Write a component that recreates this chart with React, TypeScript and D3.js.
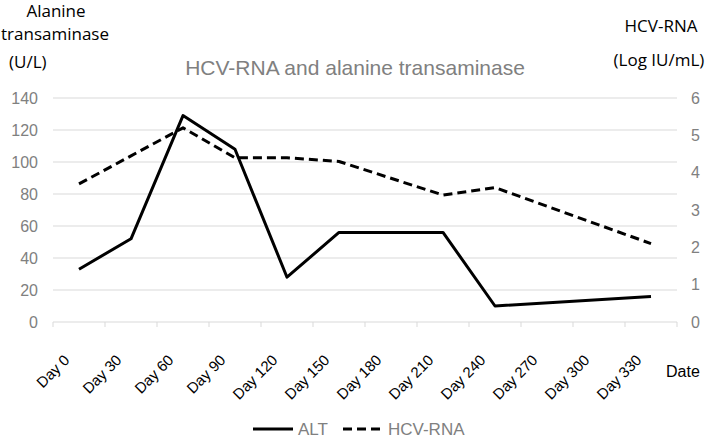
import React from 'react';
import * as d3 from 'd3';

const categories = ['Day 0', 'Day 30', 'Day 60', 'Day 90', 'Day 120', 'Day 150', 'Day 180', 'Day 210', 'Day 240', 'Day 270', 'Day 300', 'Day 330'];
const altValues: (number | null)[] = [33, 52, 129, 108, 28, 56, null, 56, 10, null, null, 16];
const hcvValues: (number | null)[] = [3.7, 4.45, 5.2, 4.4, 4.4, 4.3, null, 3.4, 3.6, null, null, 2.1];
const leftTicks = [0, 20, 40, 60, 80, 100, 120, 140];
const rightTicks = [0, 1, 2, 3, 4, 5, 6];

const W = 708;
const H = 442;
const plotLeft = 53;
const plotRight = 677;
const plotTop = 98;
const plotBottom = 322;

const tickFont = "'Liberation Sans', Arial, sans-serif";
const titleFont = "'Open Sans', 'Noto Sans', sans-serif";
const grey = '#808080';

export default function App() {
  const x = d3.scaleBand<string>().domain(categories).range([plotLeft, plotRight]).padding(0);
  const yL = d3.scaleLinear().domain([0, 140]).range([plotBottom, plotTop]);
  const yR = d3.scaleLinear().domain([0, 6]).range([plotBottom, plotTop]);
  const cx = (i: number) => (x(categories[i]) as number) + x.bandwidth() / 2;

  const altPts = altValues.map((v, i) => [cx(i), v] as [number, number | null]).filter(d => d[1] !== null) as [number, number][];
  const hcvPts = hcvValues.map((v, i) => [cx(i), v] as [number, number | null]).filter(d => d[1] !== null) as [number, number][];

  const altLine = d3.line<[number, number]>().x(d => d[0]).y(d => yL(d[1]))(altPts) || '';
  const hcvLine = d3.line<[number, number]>().x(d => d[0]).y(d => yR(d[1]))(hcvPts) || '';

  const boundaries = categories.map(c => x(c) as number).concat([plotRight]);

  return (
    <svg width={W} height={H} style={{ position: 'absolute', left: 0, top: 0, background: '#fff' }}>
      <rect x={0} y={0} width={W} height={H} fill="#fff" />
      {leftTicks.map(t => (
        <line key={'g' + t} x1={plotLeft} x2={plotRight} y1={yL(t)} y2={yL(t)} stroke="#d9d9d9" strokeWidth={1} />
      ))}
      {boundaries.map((b, i) => (
        <line key={'t' + i} x1={b} x2={b} y1={plotBottom} y2={plotBottom + 5} stroke="#d9d9d9" strokeWidth={1} />
      ))}
      {leftTicks.map(t => (
        <text key={'l' + t} x={38} y={yL(t)} dy="0.35em" textAnchor="end" fontFamily={tickFont} fontSize={16} fill={grey}>{t}</text>
      ))}
      {rightTicks.map(t => (
        <text key={'r' + t} x={691} y={yR(t)} dy="0.35em" textAnchor="start" fontFamily={tickFont} fontSize={16} fill={grey}>{t}</text>
      ))}
      {categories.map((c, i) => (
        <text key={'x' + c} transform={`translate(${cx(i) - 8.5},${361}) rotate(-45)`} textAnchor="end" fontFamily={tickFont} fontSize={15} fill="#000">{c}</text>
      ))}
      <text x={666} y={377} fontFamily={tickFont} fontSize={16} fill="#000">Date</text>
      <path d={hcvLine} fill="none" stroke="#000" strokeWidth={3} strokeDasharray="9,5" strokeLinejoin="round" />
      <path d={altLine} fill="none" stroke="#000" strokeWidth={3} strokeLinejoin="round" />
      <text x={355} y={75} textAnchor="middle" fontFamily={tickFont} fontSize={21} fill={grey}>HCV-RNA and alanine transaminase</text>
      <text x={56} y={17} textAnchor="middle" fontFamily={titleFont} fontSize={17} fill="#000">Alanine</text>
      <text x={55} y={40} textAnchor="middle" fontFamily={titleFont} fontSize={17} fill="#000">transaminase</text>
      <text x={9} y={68} textAnchor="start" fontFamily={titleFont} fontSize={17} fill="#000">(U/L)</text>
      <text x={661} y={32} textAnchor="middle" fontFamily={titleFont} fontSize={17} fill="#000">HCV-RNA</text>
      <text x={659} y={66} textAnchor="middle" fontFamily={titleFont} fontSize={17} fill="#000">(Log IU/mL)</text>
      <line x1={253} x2={293} y1={429} y2={429} stroke="#000" strokeWidth={3} />
      <text x={298} y={429} dy="0.35em" fontFamily={tickFont} fontSize={17} fill={grey}>ALT</text>
      <line x1={343} x2={383} y1={429} y2={429} stroke="#000" strokeWidth={3} strokeDasharray="9,5" />
      <text x={388} y={429} dy="0.35em" fontFamily={tickFont} fontSize={17} fill={grey}>HCV-RNA</text>
    </svg>
  );
}
